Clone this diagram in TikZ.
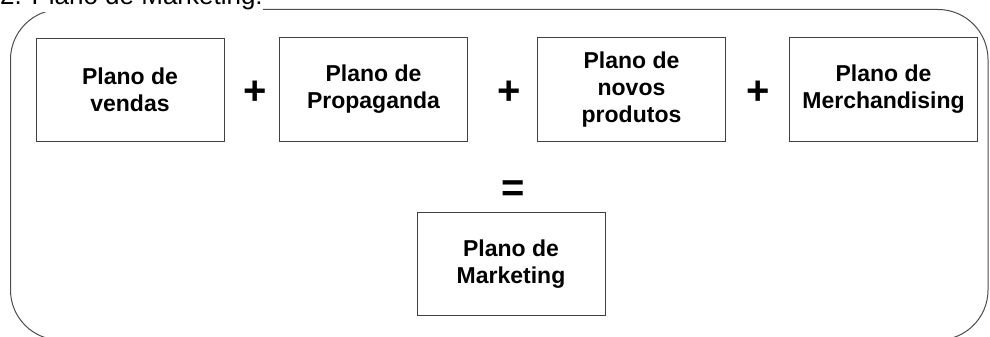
\documentclass[tikz,border=0pt]{standalone}
\usepackage{fontspec}
\setmainfont{Liberation Sans}
\usepackage{tikz}
\usepackage{xcolor}
\usetikzlibrary{arrows.meta}

\tikzset{
    planobox/.style={draw=black!75, line width=1pt, minimum width=188pt, minimum height=103pt,
        align=center, inner sep=0pt, font=\bfseries\fontsize{23}{27}\selectfont},
    sinal/.style={inner sep=0pt, font=\bfseries\fontsize{40}{40}\selectfont},
}

\begin{document}
\begin{tikzpicture}[x=1pt, y=-1pt]
    \useasboundingbox (0,0) rectangle (990,337);

    \coordinate (V) at (130,90);
    \coordinate (P) at (373.5,89.5);
    \coordinate (N) at (631.5,89.5);
    \coordinate (M) at (883.5,89.5);
    \coordinate (K) at (511,264);

    \draw[black!70, line width=1pt, rounded corners=50pt] (10.5,9.5) rectangle (988,340);

    \node (titulo) at (0,5) [anchor=base west, fill=white, inner xsep=0pt, inner ysep=2pt,
        font=\fontsize{26}{26}\selectfont] {2. Plano de Marketing:};

    \node (vendas) at (V) [planobox] {Plano de\\vendas};
    \node (propaganda) at (P) [planobox] {Plano de\\Propaganda};
    \node (novos) at (N) [planobox] {Plano de\\novos\\produtos};
    \node (merch) at (M) [planobox] {Plano de\\Merchandising};
    \node (marketing) at (K) [planobox] {Plano de\\Marketing};

    \node (mais1) at (255,93) [sinal] {+};
    \node (mais2) at (509,93) [sinal] {+};
    \node (mais3) at (758,93) [sinal] {+};
    \node (igual) at (513,191) [sinal] {=};
\end{tikzpicture}
\end{document}
